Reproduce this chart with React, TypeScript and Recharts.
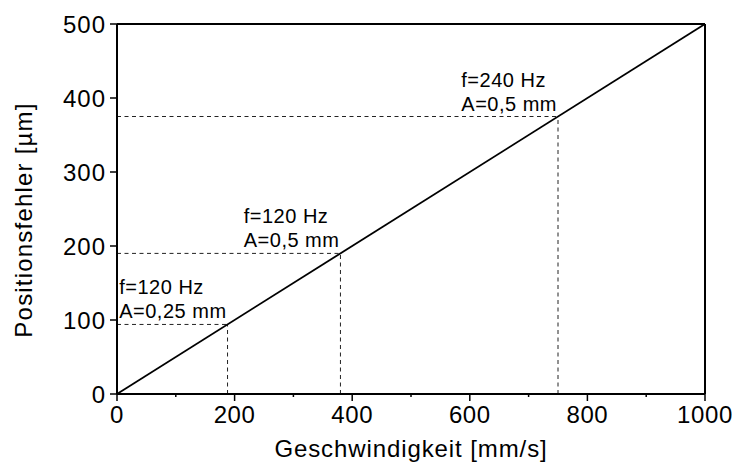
import { Line, LineChart, ReferenceDot, ReferenceLine, XAxis, YAxis } from 'recharts'

// Positionsfehler über Geschwindigkeit (linear, 0.5 µm pro mm/s)
const lineSpeed = [0, 1000]
const lineError = [0, 500]

const markSpeed = [188, 380, 750]
const markError = [94, 190, 375]
const markFreq = ['f=120 Hz', 'f=120 Hz', 'f=240 Hz']
const markAmp = ['A=0,25 mm', 'A=0,5 mm', 'A=0,5 mm']

const xTicks = [0, 100, 200, 300, 400, 500, 600, 700, 800, 900, 1000]
const yTicks = [0, 100, 200, 300, 400, 500]

const FONT = '"Liberation Sans", Arial, sans-serif'

const data = lineSpeed.map((v, i) => ({ v, e: lineError[i] }))

function textWidth(s: string, size: number, spacing: number) {
  const ctx = document.createElement('canvas').getContext('2d')
  if (!ctx) return s.length * size * 0.55
  ctx.font = `${size}px ${FONT}`
  return ctx.measureText(s).width + spacing * s.length
}

function XTick({ x, y, payload }: any) {
  const major = payload.value % 200 === 0
  return (
    <g>
      <line stroke="#000" strokeWidth={1.5} x1={x} x2={x} y1={y} y2={y + (major ? 7 : 3)} />
      {major && (
        <text fill="#000" fontFamily={FONT} fontSize={24} letterSpacing={0.6} textAnchor="middle" x={x} y={y + 29}>
          {payload.value}
        </text>
      )}
    </g>
  )
}

function Annotation({ cx, cy, freq, amp }: any) {
  const left = cx - 1 - textWidth(amp, 20, 0.5)
  return (
    <g fill="#000" fontFamily={FONT} fontSize={20} letterSpacing={0.5}>
      <text x={left} y={cy - 30}>{freq}</text>
      <text x={left} y={cy - 6}>{amp}</text>
    </g>
  )
}

export default function App() {
  return (
    <div style={{ position: 'absolute', left: 0, top: 0, background: '#fff' }}>
      <LineChart data={data} height={463} margin={{ top: 24, right: 27, bottom: 0, left: 0 }} width={732}>
        <XAxis
          axisLine={{ stroke: '#000', strokeWidth: 2 }}
          dataKey="v"
          domain={[0, 1000]}
          height={69}
          interval={0}
          label={{
            content: (p: any) => {
              const vb = p.viewBox
              return (
                <text fill="#000" fontFamily={FONT} fontSize={24} letterSpacing={0.9} textAnchor="middle" x={vb.x + vb.width / 2} y={vb.y + 63}>
                  Geschwindigkeit [mm/s]
                </text>
              )
            },
          }}
          tick={<XTick />}
          tickLine={false}
          tickMargin={0}
          tickSize={0}
          ticks={xTicks}
          type="number"
        />
        <YAxis
          axisLine={{ stroke: '#000', strokeWidth: 2 }}
          domain={[0, 500]}
          interval={0}
          label={{
            content: (p: any) => {
              const vb = p.viewBox
              const cy = vb.y + vb.height / 2 + 11
              return (
                <text
                  fill="#000"
                  fontFamily={FONT}
                  fontSize={24}
                  letterSpacing={1.2}
                  textAnchor="middle"
                  transform={`rotate(-90 32 ${cy})`}
                  x={32}
                  y={cy}
                >
                  Positionsfehler [µm]
                </text>
              )
            },
          }}
          tick={{ fill: '#000', fontFamily: FONT, fontSize: 24, letterSpacing: 1 }}
          tickLine={{ stroke: '#000', strokeWidth: 1.5 }}
          tickMargin={4}
          tickSize={7}
          ticks={yTicks}
          type="number"
          width={117}
        />
        <ReferenceLine ifOverflow="visible" stroke="#000" strokeWidth={2} y={500} />
        <ReferenceLine ifOverflow="visible" stroke="#000" strokeWidth={2} x={1000} />
        {markSpeed.map((s, i) => (
          <ReferenceLine
            ifOverflow="visible"
            key={`h${i}`}
            segment={[{ x: 0, y: markError[i] }, { x: s, y: markError[i] }]}
            stroke="#222"
            strokeDasharray="4 3.5"
            strokeWidth={1}
          />
        ))}
        {markSpeed.map((s, i) => (
          <ReferenceLine
            ifOverflow="visible"
            key={`v${i}`}
            segment={[{ x: s, y: 0 }, { x: s, y: markError[i] }]}
            stroke="#222"
            strokeDasharray="4 3.5"
            strokeWidth={1}
          />
        ))}
        {markSpeed.map((s, i) => (
          <ReferenceDot
            ifOverflow="visible"
            key={`a${i}`}
            r={0}
            shape={(p: any) => <Annotation amp={markAmp[i]} cx={p.cx} cy={p.cy} freq={markFreq[i]} />}
            x={s}
            y={markError[i]}
          />
        ))}
        <Line dataKey="e" dot={false} isAnimationActive={false} stroke="#000" strokeWidth={1.8} type="linear" />
      </LineChart>
    </div>
  )
}
